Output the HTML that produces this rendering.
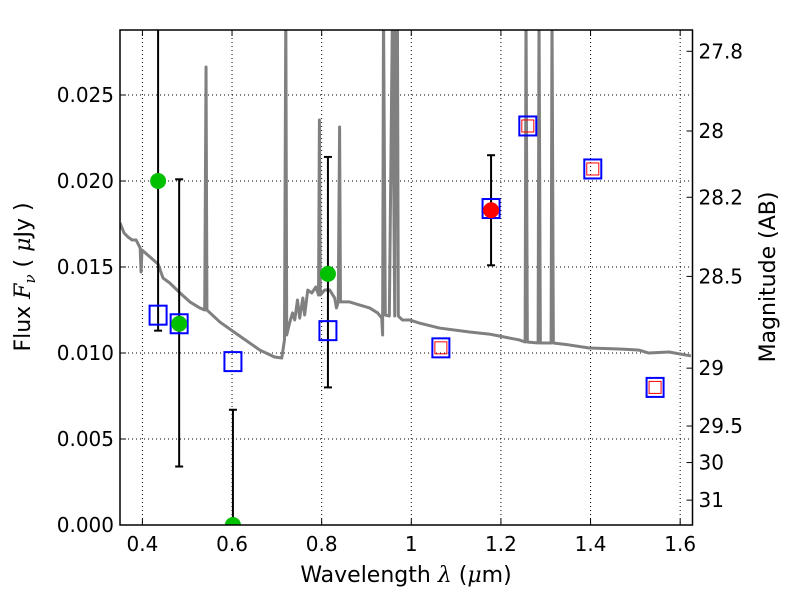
<!DOCTYPE html>
<html><head><meta charset="utf-8"><style>
body{margin:0;background:#fff}
svg{font-family:"DejaVu Sans","Liberation Sans",sans-serif}
</style></head><body>
<svg id="c" width="800" height="600" xmlns="http://www.w3.org/2000/svg"></svg>
<script>
const specLam=[0.350,0.359,0.368,0.377,0.386,0.395,0.397,0.399,0.417,0.435,0.446,0.461,0.484,0.506,0.528,0.539,0.542,0.544,0.573,0.617,0.662,0.695,0.711,0.717,0.720,0.722,0.729,0.735,0.740,0.746,0.751,0.758,0.762,0.769,0.778,0.787,0.793,0.795,0.797,0.807,0.818,0.829,0.833,0.837,0.840,0.842,0.862,0.885,0.907,0.925,0.934,0.936,0.938,0.942,0.951,0.958,0.963,0.965,0.969,0.971,0.980,0.996,1.018,1.063,1.130,1.174,1.196,1.241,1.254,1.256,1.259,1.283,1.285,1.288,1.312,1.314,1.317,1.352,1.397,1.464,1.508,1.530,1.575,1.624];
const specFlux=[0.01756,0.01698,0.01674,0.01657,0.01657,0.01610,0.01471,0.01599,0.01558,0.01517,0.01436,0.01407,0.01349,0.01297,0.01262,0.01250,0.02663,0.01250,0.01180,0.01099,0.01017,0.00977,0.00971,0.01076,0.0300,0.01105,0.01180,0.01233,0.01192,0.01308,0.01203,0.01320,0.01221,0.01366,0.01349,0.01384,0.01337,0.02355,0.01337,0.01366,0.01366,0.01320,0.01262,0.01297,0.02314,0.01297,0.01297,0.01279,0.01262,0.01233,0.01203,0.01105,0.0300,0.01221,0.01215,0.0300,0.01215,0.0300,0.0300,0.01215,0.01192,0.01192,0.01174,0.01145,0.01122,0.01110,0.01099,0.01076,0.01064,0.0300,0.01064,0.01058,0.0300,0.01058,0.01058,0.0300,0.01058,0.01047,0.01029,0.01023,0.01017,0.01000,0.01006,0.00983];
const obsLam=[0.435,0.482,0.602,0.814];
const obsFlux=[0.0200,0.0117,0.0,0.0146];
const errLam=[0.435,0.482,0.602,0.814,1.178];
const errLo=[0.0113,0.0034,0.0,0.0080,0.0151];
const errHi=[0.0300,0.0201,0.0067,0.0214,0.0215];
const redLam=[1.178];
const redFlux=[0.0183];
const modLam=[0.435,0.482,0.602,0.814,1.066,1.178,1.260,1.405,1.544];
const modFlux=[0.0122,0.0117,0.0095,0.0113,0.0103,0.0184,0.0232,0.0207,0.0080];
const modRedLam=[1.066,1.260,1.405,1.544];
const modRedFlux=[0.0103,0.0232,0.0207,0.0080];
const xTicks=[0.4,0.6,0.8,1,1.2,1.4,1.6];
const xTickLabels=["0.4","0.6","0.8","1","1.2","1.4","1.6"];
const yTicks=[0,0.005,0.01,0.015,0.02,0.025];
const yTickLabels=["0.000","0.005","0.010","0.015","0.020","0.025"];
const magTicks=[27.8,28,28.2,28.5,29,29.5,30,31];
const magTickLabels=["27.8","28","28.2","28.5","29","29.5","30","31"];

const L=120,R=692.5,T=30,B=525,XMIN=0.35,XMAX=1.6275,YMIN=0,YMAX=0.02878;
const X=v=>L+(v-XMIN)/(XMAX-XMIN)*(R-L);
const Y=v=>B-(v-YMIN)/(YMAX-YMIN)*(B-T);
const svg=document.getElementById('c');const NS="http://www.w3.org/2000/svg";
function mk(t,a,p){const e=document.createElementNS(NS,t);for(const k in a)e.setAttribute(k,a[k]);(p||svg).appendChild(e);return e;}
const defs=mk('defs',{});const cp=mk('clipPath',{id:'clip'},defs);mk('rect',{x:L,y:T,width:R-L,height:B-T},cp);
xTicks.forEach((v,i)=>{
 const g=mk('line',{x1:X(v),x2:X(v),y1:T,y2:B,stroke:'#000','stroke-dasharray':'1,3','stroke-width':1});
 
 
 mk('line',{x1:X(v),x2:X(v),y1:B,y2:B-6,stroke:'#000'});mk('line',{x1:X(v),x2:X(v),y1:T,y2:T+6,stroke:'#000'});
 const t=mk('text',{x:X(v),y:B+26,'text-anchor':'middle','font-size':20});t.textContent=xTickLabels[i];
 
 
});
yTicks.forEach((v,i)=>{
 const g=mk('line',{x1:L,x2:R,y1:Y(v),y2:Y(v),stroke:'#000','stroke-dasharray':'1,3','stroke-width':1});
 
 
 mk('line',{x1:L,x2:L+6,y1:Y(v),y2:Y(v),stroke:'#000'});
 const t=mk('text',{x:L-6,y:Y(v)+7,'text-anchor':'end','font-size':20});t.textContent=yTickLabels[i];
 
 
});
magTicks.forEach((m,i)=>{
 const f=Math.pow(10,(23.9-m)/2.5);const y=Y(f);
 mk('line',{x1:R,x2:R-6,y1:y,y2:y,stroke:'#000'});
 const t=mk('text',{x:R+6,y:y+7,'font-size':20});t.textContent=magTickLabels[i];
 
 
});
const clipG=mk('g',{'clip-path':'url(#clip)'});
const spec=mk('polyline',{points:specLam.map((l,i)=>X(l)+','+Y(specFlux[i])).join(' '),fill:'none',stroke:'#808080','stroke-width':3,'stroke-linejoin':'round'},clipG);


errLam.forEach((l,i)=>{
 const x=X(l);
 mk('line',{x1:x,x2:x,y1:Y(errLo[i]),y2:Y(errHi[i]),stroke:'#000','stroke-width':2},clipG);
 mk('line',{x1:x-4,x2:x+4,y1:Y(errLo[i]),y2:Y(errLo[i]),stroke:'#000','stroke-width':2},clipG);
 mk('line',{x1:x-4,x2:x+4,y1:Y(errHi[i]),y2:Y(errHi[i]),stroke:'#000','stroke-width':2},clipG);
});
modLam.forEach((l,i)=>{
 const r=mk('rect',{x:X(l)-8.5,y:Y(modFlux[i])-9.5,width:17,height:19,fill:'none',stroke:'#0000ff','stroke-width':2},clipG);
 
 
});
modRedLam.forEach((l,i)=>{
 const r=mk('rect',{x:X(l)-6,y:Y(modRedFlux[i])-6,width:12,height:12,fill:'none',stroke:'#ff0000','stroke-width':1},clipG);
 
 
});
obsLam.forEach((l,i)=>{
 const c=mk('circle',{cx:X(l),cy:Y(obsFlux[i]),r:8,fill:'#00c000'},clipG);
 
 
});
redLam.forEach((l,i)=>{
 const c=mk('circle',{cx:X(l),cy:Y(redFlux[i]),r:8,fill:'#ff0000'},clipG);
 
 
});
const fr=mk('rect',{x:L,y:T,width:R-L,height:B-T,fill:'none',stroke:'#000','stroke-width':1.5});


</script>
<svg width="800" height="600" style="position:absolute;left:0;top:0" xmlns="http://www.w3.org/2000/svg" font-family="DejaVu Sans, Liberation Sans, sans-serif">
<text x="406" y="582" text-anchor="middle" font-size="22">Wavelength  <tspan font-family="DejaVu Serif, serif" font-style="italic">λ</tspan> (<tspan font-family="DejaVu Serif, serif" font-style="italic">μ</tspan>m)</text>
<text transform="translate(30,277) rotate(-90)" text-anchor="middle" font-size="22">Flux  <tspan font-family="DejaVu Serif, serif" font-style="italic">F<tspan font-size="15" dy="5">ν</tspan></tspan><tspan dy="-5">  ( </tspan><tspan font-family="DejaVu Serif, serif" font-style="italic">μ</tspan>Jy )</text>
<text transform="translate(775,277) rotate(-90)" text-anchor="middle" font-size="22">Magnitude (AB)</text>
</svg>
</body></html>
